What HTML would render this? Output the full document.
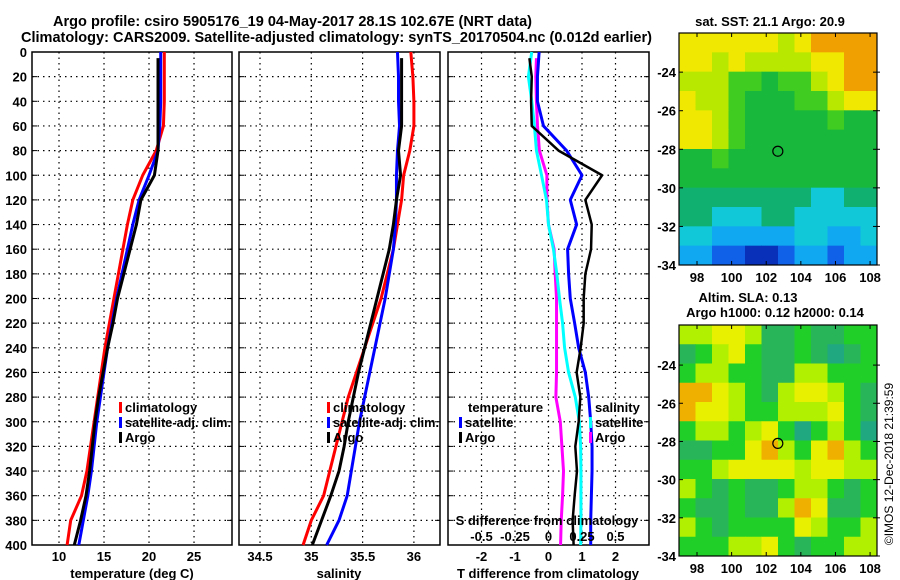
<!DOCTYPE html>
<html><head><meta charset="utf-8"><style>
body{margin:0;background:#fff}
svg{display:block;font-family:"Liberation Sans",sans-serif;font-weight:bold}
</style></head><body>
<svg id="c" width="900" height="580" viewBox="0 0 900 580" xmlns="http://www.w3.org/2000/svg">
<text x="53" y="26" font-size="15" textLength="479" lengthAdjust="spacingAndGlyphs">Argo profile: csiro 5905176_19 04-May-2017 28.1S 102.67E (NRT data)</text>
<text x="21" y="42" font-size="15" textLength="631" lengthAdjust="spacingAndGlyphs">Climatology: CARS2009. Satellite-adjusted climatology: synTS_20170504.nc (0.012d earlier)</text>
<text x="770" y="26" font-size="13" text-anchor="middle">sat. SST: 21.1 Argo: 20.9</text>
<text x="748" y="302" font-size="13" text-anchor="middle">Altim. SLA: 0.13</text>
<text x="775" y="317" font-size="13" text-anchor="middle">Argo h1000: 0.12 h2000: 0.14</text>
<text transform="translate(893,464) rotate(-90)" font-size="12" font-weight="normal" text-anchor="middle">©IMOS 12-Dec-2018 21:39:59</text>
</svg>
<script>
const depths=[0,20,40,60,80,100,120,140,160,180,200,220,240,260,280,300,320,340,360,380,400];
const tClim=[21.7,21.7,21.7,21.6,20.8,19.3,18.2,17.6,17.1,16.6,16.1,15.6,15.1,14.7,14.3,13.9,13.5,13.1,12.5,11.3,10.9];
const tSat=[21.3,21.3,21.3,21.2,21.0,20.0,18.9,18.2,17.6,17.0,16.4,15.9,15.4,15.0,14.6,14.2,13.9,13.6,13.2,12.7,12.2];
const tArgo=[21.0,21.0,21.0,21.0,21.0,20.6,19.1,18.6,17.9,17.2,16.5,16.0,15.4,14.9,14.4,14.0,13.7,13.4,13.0,12.4,11.7];
const sClim=[35.97,35.99,36.0,36.0,35.96,35.9,35.88,35.84,35.8,35.74,35.68,35.6,35.52,35.44,35.36,35.3,35.24,35.18,35.12,35.0,34.92];
const sSat=[35.84,35.85,35.85,35.86,35.84,35.83,35.83,35.82,35.8,35.76,35.72,35.67,35.62,35.57,35.52,35.47,35.43,35.39,35.35,35.27,35.15];
const sArgo=[35.88,35.88,35.88,35.88,35.85,35.87,35.83,35.8,35.76,35.7,35.64,35.58,35.52,35.46,35.41,35.36,35.32,35.27,35.19,35.1,35.01];
const dTSat=[-0.28,-0.33,-0.33,-0.15,0.54,1.0,0.65,0.84,0.57,0.6,0.65,0.78,0.9,1.1,1.2,1.26,1.3,1.3,1.28,1.26,1.26];
const dTArgo=[-0.57,-0.5,-0.52,-0.5,0.3,1.6,1.1,1.29,1.27,1.1,1.05,1.05,0.96,0.84,0.95,0.9,0.8,0.85,0.78,0.72,0.75];
const dSSat=[-0.125,-0.15,-0.125,-0.105,-0.09,-0.052,-0.015,0,0.037,0.062,0.082,0.105,0.12,0.15,0.2,0.23,0.24,0.242,0.242,0.242,0.24];
const dSArgo=[-0.09,-0.095,-0.09,-0.082,-0.068,-0.012,-0.012,0,0.042,0.05,0.06,0.06,0.06,0.06,0.055,0.088,0.1,0.112,0.105,0.095,0.09];
const depthTicks=[0,20,40,60,80,100,120,140,160,180,200,220,240,260,280,300,320,340,360,380,400];
const tTicks=[10,15,20,25];
const sTicks=[34.5,35,35.5,36];
const dtTicks=[-2,-1,0,1,2];
const dsTicks=[-0.5,-0.25,0,0.25,0.5];
const dsTickLabels=["-0.5","-0.25","0","0.25","0.5"];
const latTicks=[-24,-26,-28,-30,-32,-34];
const lonTicks=[98,100,102,104,106,108];
const sstGrid=[
[8,8,8,8,8,8,7,8,9,9,9,9],[8,8,7,8,7,7,7,7,8,8,9,9],[7,7,7,6,6,5,6,6,7,8,9,9],[8,7,7,6,5,5,5,6,6,7,8,8],
[8,8,7,6,5,5,5,5,5,6,5,5],[8,8,7,6,5,5,5,5,5,5,5,5],[5,5,6,5,5,5,5,5,5,5,5,5],[5,5,5,5,5,5,5,5,5,5,5,5],
[4,4,4,4,4,4,4,4,3,3,4,4],[4,4,3,3,3,4,4,3,3,3,3,3],[3,3,2,2,2,2,2,3,3,2,2,3],[2,2,1,1,0,0,1,2,2,1,2,2]];
const slaGrid=[
[7,7,8,8,7,5,5,6,5,5,6,6],[5,6,7,8,6,5,5,6,5,4,5,6],[6,7,7,6,6,5,5,7,7,6,6,6],[9,9,8,7,6,5,7,8,8,7,6,5],
[9,8,8,7,6,6,7,7,7,8,6,5],[6,7,7,6,7,8,6,4,6,7,6,4],[5,5,6,6,8,9,7,6,8,9,7,6],[6,6,7,8,8,8,8,7,8,8,7,7],
[7,6,5,6,5,5,6,7,7,6,5,6],[6,5,5,6,5,5,7,9,8,5,5,6],[7,6,5,6,6,6,6,8,7,6,6,7],[6,6,6,7,7,8,6,5,6,6,7,7]];
const argoLon=102.67, argoLat=-28.1;

const svg=document.getElementById('c');
const NS='http://www.w3.org/2000/svg';
function mk(tag,attrs,parent){const e=document.createElementNS(NS,tag);for(const k in attrs)e.setAttribute(k,attrs[k]);(parent||svg).appendChild(e);return e;}
const Y0=52,Y1=545;
const yD=d=>Y0+(d/400)*(Y1-Y0);
function lin(d0,d1,p0,p1){return v=>p0+(v-d0)/(d1-d0)*(p1-p0);}
const cmapSST=['#0830b8','#1060e8','#10a8f0','#10c8d8','#10b070','#18b83c','#40cc20','#b8e800','#f0e800','#f0a000'];
const cmapSLA=['#0830b8','#1060e8','#10a8f0','#10c8d8','#20a880','#28b458','#20d028','#b0f000','#e8f000','#f0b000'];

function panel(name,x0,x1,xs,ticks,labels,yLabels){
  const g=mk('g',{});
  
  
  ticks.forEach((t,i)=>{
    const x=xs(t);
    const l=mk('line',{x1:x,x2:x,y1:Y0,y2:Y1,stroke:'#000','stroke-width':1.2,'stroke-dasharray':'1.5 4'},g);
    
    
    if(labels){const tx=mk('text',{x:x,y:561,'font-size':13,'text-anchor':'middle'},g);tx.textContent=labels[i];
      
      }
  });
  depthTicks.forEach(d=>{
    const y=yD(d);
    if(d>0&&d<400){const l=mk('line',{x1:x0,x2:x1,y1:y,y2:y,stroke:'#000','stroke-width':1.2,'stroke-dasharray':'1.5 4'},g);
      
      }
    mk('line',{x1:x0,x2:x0+5,y1:y,y2:y,stroke:'#000','stroke-width':1},g);
    mk('line',{x1:x1-5,x2:x1,y1:y,y2:y,stroke:'#000','stroke-width':1},g);
    if(yLabels){const tx=mk('text',{x:27,y:y+5,'font-size':13,'text-anchor':'end'},g);tx.textContent=d;
      
      }
  });
  const r=mk('rect',{x:x0,y:Y0,width:x1-x0,height:Y1-Y0,fill:'none',stroke:'#000','stroke-width':1.5},g);
  
  
  return g;
}
function series(g,vals,xs,color,w,name,start){
  const pts=vals.map((v,i)=>[xs(v),yD(i===0&&start?start:depths[i])]);
  const p=mk('polyline',{points:pts.map(q=>q.join(',')).join(' '),fill:'none',stroke:color,'stroke-width':w,'stroke-linejoin':'round'},g);
  
  
}
function legend(g,x,y,color,label,name,len){
  if(color){mk('rect',{x:x,y:y-10,width:3,height:11,fill:color},g);}
  const a={x:x+(color?6:0),y:y,'font-size':13};
  if(len){a.textLength=len;a.lengthAdjust='spacingAndGlyphs';}
  const t=mk('text',a,g);t.textContent=label;
  
  
}

// Panel 1 temperature
const xT=lin(7,29.22,32,232);
const g1=panel('temperature-panel',32,232,xT,tTicks,tTicks.map(String),true);
series(g1,tClim,xT,'#f00',3,'temp-climatology-line');
series(g1,tSat,xT,'#00f',3,'temp-satellite-line');
series(g1,tArgo,xT,'#000',3,'temp-argo-line',5);
legend(g1,119,412,'#f00','climatology','legend-climatology');
legend(g1,119,427,'#00f','satellite-adj. clim.','legend-satellite-adj',106);
legend(g1,119,442,'#000','Argo','legend-argo');
let t=mk('text',{x:132,y:578,'font-size':13,'text-anchor':'middle'});t.textContent='temperature (deg C)';



// Panel 2 salinity
const xS=lin(34.5,35,260,311.3);
const g2=panel('salinity-panel',239,440,xS,sTicks,sTicks.map(String),false);
series(g2,sClim,xS,'#f00',3,'sal-climatology-line');
series(g2,sSat,xS,'#00f',3,'sal-satellite-line');
series(g2,sArgo,xS,'#000',3,'sal-argo-line',5);
legend(g2,327,412,'#f00','climatology','legend-climatology-2');
legend(g2,327,427,'#00f','satellite-adj. clim.','legend-satellite-adj-2',106);
legend(g2,327,442,'#000','Argo','legend-argo-2');
t=mk('text',{x:339,y:578,'font-size':13,'text-anchor':'middle'});t.textContent='salinity';



// Panel 3 differences
const xDT=lin(-3,3,448,649);
const xDS=v=>xDT(v*4);
const g3=panel('difference-panel',448,649,xDT,dtTicks,dtTicks.map(String),false);
series(g3,dSArgo,xDS,'#f0f',3,'sal-diff-argo-line',5);
series(g3,dSSat,xDS,'#0ff',3,'sal-diff-satellite-line');
series(g3,dTSat,xDT,'#00f',3,'temp-diff-satellite-line');
series(g3,dTArgo,xDT,'#000',2.5,'temp-diff-argo-line',5);
legend(g3,468,412,null,'temperature','legend-temperature-heading');
legend(g3,459,427,'#00f','satellite','legend-temp-satellite');
legend(g3,459,442,'#000','Argo','legend-temp-argo');
legend(g3,595,412,null,'salinity','legend-salinity-heading');
legend(g3,589,427,'#0ff','satellite','legend-sal-satellite');
legend(g3,589,442,'#f0f','Argo','legend-sal-argo');
t=mk('text',{x:547,y:525,'font-size':13,'text-anchor':'middle'});t.textContent='S difference from climatology';


dsTicks.forEach((v,i)=>{const e=mk('text',{x:xDS(v),y:541,'font-size':13,'text-anchor':'middle'});e.textContent=dsTickLabels[i];
  
  });
t=mk('text',{x:548,y:578,'font-size':13,'text-anchor':'middle'});t.textContent='T difference from climatology';



// Maps
function map(name,grid,cmap,top,bottom,latTop){
  const x0=679,x1=877;
  const xl=lin(96.96,108.4,x0,x1), yl=lin(latTop,-34,top,bottom);
  const g=mk('g',{});
  
  
  const rows=grid.length,cols=grid[0].length;
  const cw=(x1-x0)/cols,ch=(bottom-top)/rows;
  grid.forEach((row,r)=>row.forEach((v,c)=>{
    const cell=mk('rect',{x:x0+c*cw,y:top+r*ch,width:cw+0.5,height:ch+0.5,fill:cmap[v]},g);
    
    
  }));
  mk('rect',{x:x0,y:top,width:x1-x0,height:bottom-top,fill:'none',stroke:'#000','stroke-width':1.2},g);
  latTicks.forEach(v=>{const y=yl(v);
    mk('line',{x1:x0,x2:x0+4,y1:y,y2:y,stroke:'#000'},g);mk('line',{x1:x1-4,x2:x1+3,y1:y,y2:y,stroke:'#000'},g);
    const e=mk('text',{x:676,y:y+5,'font-size':13,'text-anchor':'end'},g);e.textContent=v;
    
    });
  lonTicks.forEach(v=>{const x=xl(v);
    mk('line',{x1:x,x2:x,y1:bottom-4,y2:bottom,stroke:'#000'},g);mk('line',{x1:x,x2:x,y1:top,y2:top+4,stroke:'#000'},g);
    const e=mk('text',{x:x,y:bottom+17,'font-size':13,'text-anchor':'middle'},g);e.textContent=v;
    
    });
  const m=mk('circle',{cx:xl(argoLon),cy:yl(argoLat),r:5,fill:'none',stroke:'#000','stroke-width':1.2},g);
  
  
}
map('sst-map',sstGrid,cmapSST,33,265,-21.97);
map('sla-map',slaGrid,cmapSLA,325,556,-21.9);
</script>
</body></html>
